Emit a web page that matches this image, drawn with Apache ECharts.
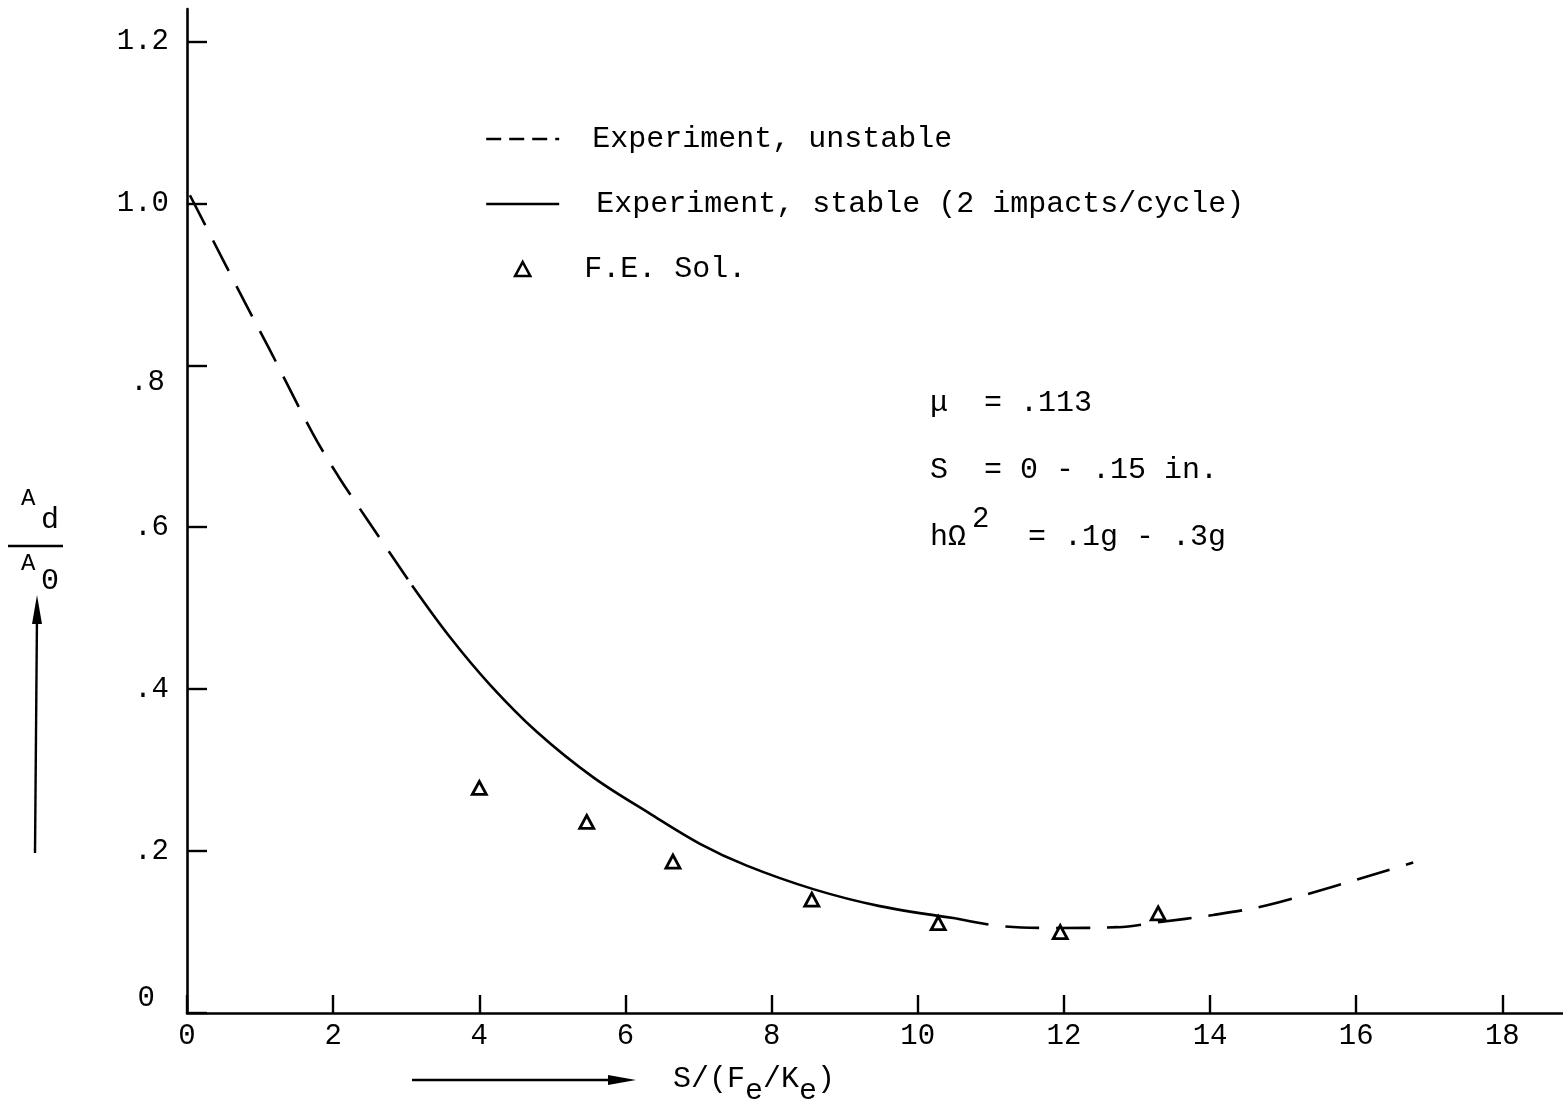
<!DOCTYPE html>
<html>
<head>
<meta charset="utf-8">
<script src="https://cdn.jsdelivr.net/npm/echarts@6/dist/echarts.min.js"></script>
<style>
html, body { margin: 0; padding: 0; background: #fff; }
#chart { width: 1563px; height: 1109px; }
</style>
</head>
<body>
<div id="chart"></div>
<script>
// Amplitude ratio A_d/A_0 against normalised clearance S/(F_e/K_e)
const unstableLow = [[0.04, 1.010], [0.79, 0.878], [1.11, 0.823], [1.72, 0.716], [2.07, 0.663], [2.44, 0.613], [3.08, 0.528]];
const stable = [[3.08, 0.528], [3.60, 0.464], [4.15, 0.405], [4.79, 0.347], [5.56, 0.291], [6.34, 0.246], [7.02, 0.209], [7.66, 0.182], [8.57, 0.153], [9.48, 0.132], [10.51, 0.117]];
const unstableHigh = [[10.51, 0.117], [11.17, 0.107], [11.96, 0.105], [12.74, 0.106], [13.28, 0.112], [14.04, 0.121], [14.78, 0.133], [15.68, 0.156], [16.46, 0.177], [16.78, 0.186]];
const feSol = [[4.0, 0.278], [5.47, 0.236], [6.65, 0.187], [8.55, 0.140], [10.28, 0.111], [11.95, 0.100], [13.29, 0.123]];

const xTicks = [0, 2, 4, 6, 8, 10, 12, 14, 16, 18];
const yTicks = [0, 0.2, 0.4, 0.6, 0.8, 1.0, 1.2];
const yTickLabels = ['0', '.2', '.4', '.6', '.8', '1.0', '1.2'];

const seriesNames = ['Experiment, unstable', 'Experiment, stable (2 impacts/cycle)', 'F.E. Sol.'];
const paramLines = ['\u03bc  = .113', 'S  = 0 - .15 in.', 'h\u03a9', '2', '  = .1g - .3g'];

const FONT = 'Liberation Mono';
const INK = '#000';
const TRIANGLE = 'path://M7,0 L14,13 L0,13 Z';

function yLabel(v) {
  const i = yTicks.findIndex(t => Math.abs(t - v) < 1e-6);
  const s = i >= 0 ? yTickLabels[i] : '';
  if (s === '0') return '{up|' + s + '}';
  if (s === '.8') return '{dn|' + s + '}';
  return s;
}

const chart = echarts.init(document.getElementById('chart'), null, { renderer: 'canvas' });

const dashed = { color: INK, width: 2.6, type: [34, 17] };
const solid = { color: INK, width: 2.6, type: 'solid' };
const hidden = { opacity: 0, color: 'transparent', borderColor: 'transparent' };
const f = (px) => px + 'px "' + FONT + '"';

chart.setOption({
  animation: false,
  backgroundColor: '#fff',
  grid: { left: 187, right: 0, top: 9, bottom: 96, containLabel: false },
  xAxis: {
    type: 'value', min: 0, max: 18.83,
    axisLine: { show: true, lineStyle: { color: INK, width: 2.6 } },
    axisTick: { show: true, inside: true, length: 18, customValues: xTicks, lineStyle: { color: INK, width: 2.4 } },
    axisLabel: { customValues: xTicks, margin: 9, fontFamily: FONT, fontSize: 29, color: INK },
    splitLine: { show: false }
  },
  yAxis: {
    type: 'value', min: 0, max: 1.24,
    axisLine: { show: true, lineStyle: { color: INK, width: 2.6 } },
    axisTick: { show: true, inside: true, length: 20, customValues: yTicks, lineStyle: { color: INK, width: 2.4 } },
    axisLabel: {
      customValues: yTicks, margin: 18, fontFamily: FONT, fontSize: 29, color: INK,
      formatter: yLabel,
      rich: {
        up: { fontFamily: FONT, fontSize: 29, color: INK, padding: [0, 14, 30, 0] },
        dn: { fontFamily: FONT, fontSize: 29, color: INK, padding: [34, 4, 0, 0] }
      }
    },
    splitLine: { show: false }
  },
  legend: {
    orient: 'vertical', left: 480, top: 119,
    itemWidth: 73, itemHeight: 14, itemGap: 35,
    selectedMode: false,
    symbolKeepAspect: true,
    textStyle: { fontFamily: FONT, fontSize: 30, color: INK, padding: [0, 0, 0, 28] },
    data: [
      { name: seriesNames[0], lineStyle: { type: [15, 8], width: 2.4, color: INK }, itemStyle: hidden },
      { name: seriesNames[1], lineStyle: { width: 2.4, color: INK }, itemStyle: hidden, textStyle: { padding: [0, 0, 0, 32] } },
      { name: seriesNames[2], icon: TRIANGLE, itemStyle: { color: '#fff', borderColor: INK, borderWidth: 2.6 }, textStyle: { padding: [0, 0, 0, 20] } }
    ]
  },
  series: [
    { name: seriesNames[0], type: 'line', data: unstableLow, smooth: 0.35, symbol: 'none', lineStyle: dashed, itemStyle: { color: INK } },
    { name: seriesNames[1], type: 'line', data: stable, smooth: 0.35, symbol: 'none', lineStyle: solid, itemStyle: { color: INK } },
    { name: seriesNames[0], type: 'line', data: unstableHigh, smooth: 0.35, symbol: 'none', lineStyle: dashed, itemStyle: { color: INK } },
    {
      name: seriesNames[2], type: 'scatter', data: feSol, z: 5,
      symbol: TRIANGLE, symbolSize: [14, 13],
      itemStyle: { color: '#fff', borderColor: INK, borderWidth: 2.8, opacity: 1 }
    }
  ],
  graphic: [
    // parameter block
    { type: 'text', left: 930, top: 388, style: { text: paramLines[0], font: f(30), fill: INK } },
    { type: 'text', left: 930, top: 455, style: { text: paramLines[1], font: f(30), fill: INK } },
    { type: 'text', left: 930, top: 522, style: { text: paramLines[2], font: f(30), fill: INK } },
    { type: 'text', left: 972, top: 505, style: { text: paramLines[3], font: f(29), fill: INK } },
    { type: 'text', left: 992, top: 522, style: { text: paramLines[4], font: f(30), fill: INK } },

    // y-axis title: A_d over A_0 with upward arrow
    { type: 'text', left: 21, top: 487, style: { text: 'A', font: f(24), fill: INK } },
    { type: 'text', left: 41, top: 505, style: { text: 'd', font: f(30), fill: INK } },
    { type: 'line', shape: { x1: 8, y1: 546, x2: 63, y2: 546 }, style: { stroke: INK, lineWidth: 2.4 } },
    { type: 'text', left: 21, top: 552, style: { text: 'A', font: f(24), fill: INK } },
    { type: 'text', left: 41, top: 566, style: { text: '0', font: f(30), fill: INK } },
    { type: 'line', shape: { x1: 35, y1: 853, x2: 37, y2: 615 }, style: { stroke: INK, lineWidth: 2.4 } },
    { type: 'polygon', shape: { points: [[37, 595], [32, 624], [42, 624]] }, style: { fill: INK } },

    // x-axis title: S/(F_e/K_e) with rightward arrow
    { type: 'text', left: 673, top: 1064, style: { text: 'S/(F', font: f(30), fill: INK } },
    { type: 'text', left: 745, top: 1076, style: { text: 'e', font: f(30), fill: INK } },
    { type: 'text', left: 763, top: 1064, style: { text: '/K', font: f(30), fill: INK } },
    { type: 'text', left: 799, top: 1076, style: { text: 'e', font: f(30), fill: INK } },
    { type: 'text', left: 817, top: 1064, style: { text: ')', font: f(30), fill: INK } },
    { type: 'line', shape: { x1: 412, y1: 1080, x2: 612, y2: 1080 }, style: { stroke: INK, lineWidth: 2.4 } },
    { type: 'polygon', shape: { points: [[636, 1080], [608, 1075], [608, 1085]] }, style: { fill: INK } }
  ]
});
</script>
</body>
</html>
